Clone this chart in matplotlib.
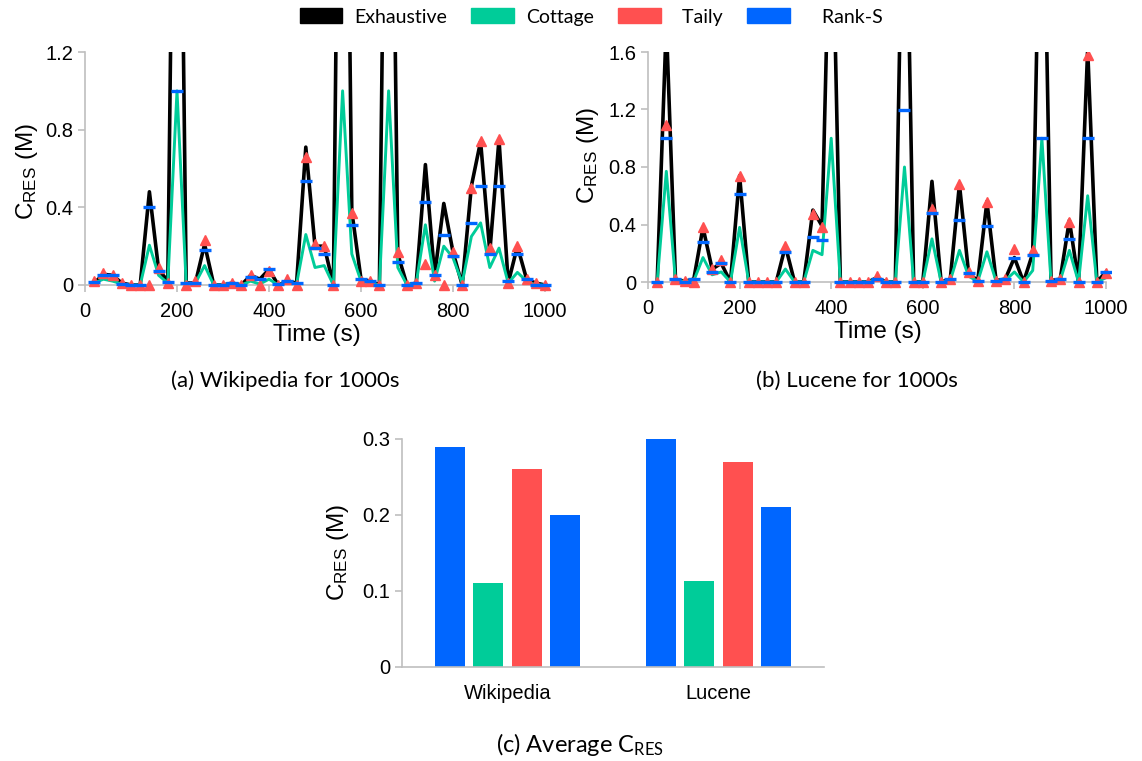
import numpy as np
import matplotlib
matplotlib.use('Agg')
import matplotlib.pyplot as plt
import matplotlib.patches as mpatches
from matplotlib.ticker import FuncFormatter

plt.rcParams['font.family'] = ['Liberation Sans', 'DejaVu Sans']
plt.rcParams['mathtext.default'] = 'regular'

# sampling instants (s)
time = np.arange(20, 1001, 20)

# (a) Wikipedia, C_RES in millions
wiki_exhaustive = [0.01, 0.055, 0.05, 0.01, 0, 0, 0.48, 0.08, 0.02, 4.0,
                   0.01, 0.01, 0.21, 0, 0, 0.01, 0, 0.05, 0.03, 0.08,
                   0, 0.02, 0.01, 0.71, 0.20, 0.20, 0, 4.5, 0.38, 0.03,
                   0.02, 0, 4.0, 0.16, 0, 0.01, 0.62, 0.05, 0.42, 0.17,
                   0, 0.51, 0.74, 0.17, 0.75, 0.01, 0.20, 0.03, 0.01, 0]
wiki_cottage = [0.01, 0.03, 0.02, 0.005, 0, 0, 0.205, 0.05, 0.01, 1.0,
                0.005, 0.01, 0.10, 0, 0, 0.005, 0, 0.02, 0.005, 0.03,
                0, 0.015, 0.005, 0.26, 0.09, 0.10, 0, 1.0, 0.16, 0.02,
                0.01, 0, 1.0, 0.09, 0, 0.01, 0.31, 0.02, 0.20, 0.14,
                0.01, 0.25, 0.32, 0.09, 0.19, 0.01, 0.065, 0.02, 0, 0]
wiki_taily = [0.02, 0.06, 0.05, 0.01, 0, 0, 0, 0.09, 0.01, 1.5,
              0, 0.02, 0.23, 0, 0, 0.01, 0, 0.05, 0, 0.07,
              0, 0.03, 0, 0.66, 0.21, 0.20, 0, 1.5, 0.37, 0.02,
              0.02, 0, 1.5, 0.17, 0, 0.01, 0.11, 0.05, 0, 0.17,
              0, 0.50, 0.74, 0.19, 0.75, 0.01, 0.20, 0.03, 0.01, 0]
wiki_rank_s = [0.015, 0.05, 0.05, 0.005, 0, 0, 0.40, 0.07, 0.015, 1.0,
               0.01, 0.01, 0.18, 0, 0, 0.01, 0, 0.04, 0.03, 0.08,
               0.005, 0.02, 0.01, 0.535, 0.19, 0.16, 0, 1.4, 0.31, 0.03,
               0.02, 0, 1.4, 0.12, 0, 0.01, 0.43, 0.05, 0.26, 0.15,
               0, 0.32, 0.51, 0.16, 0.51, 0.02, 0.16, 0.03, 0, 0]

# (b) Lucene, C_RES in millions
luc_exhaustive = [0, 1.8, 0.02, 0.005, 0.02, 0.38, 0.09, 0.13, 0, 0.74,
                  0, 0, 0, 0, 0.25, 0, 0, 0.50, 0.39, 3.0,
                  0, 0, 0, 0, 0.03, 0, 0, 3.5, 0, 0,
                  0.70, 0, 0.02, 0.68, 0.06, 0.01, 0.56, 0.01, 0.02, 0.17,
                  0, 0.20, 3.5, 0.01, 0.02, 0.43, 0, 1.62, 0, 0.07]
luc_cottage = [0, 0.77, 0.01, 0.005, 0.01, 0.17, 0.05, 0.07, 0, 0.38,
               0, 0, 0, 0, 0.09, 0, 0, 0.22, 0.19, 1.0,
               0, 0, 0, 0, 0.02, 0, 0, 0.80, 0, 0,
               0.30, 0, 0.01, 0.22, 0.04, 0.005, 0.21, 0.005, 0.01, 0.07,
               0, 0.08, 1.0, 0, 0.01, 0.22, 0, 0.60, 0, 0.03]
luc_taily = [0, 1.09, 0.02, 0.005, 0, 0.38, 0.09, 0.15, 0, 0.74,
             0, 0, 0, 0, 0.25, 0, 0, 0.47, 0.38, 2.0,
             0, 0, 0, 0, 0.04, 0, 0, 2.0, 0, 0,
             0.51, 0, 0.02, 0.68, 0.07, 0.005, 0.56, 0.01, 0.02, 0.23,
             0, 0.22, 2.0, 0.01, 0.02, 0.42, 0, 1.58, 0, 0.06]
luc_rank_s = [0, 1.0, 0.02, 0, 0.02, 0.28, 0.07, 0.13, 0, 0.61,
              0, 0, 0, 0, 0.21, 0, 0, 0.31, 0.29, 2.0,
              0, 0, 0, 0, 0.02, 0, 0, 1.2, 0, 0,
              0.48, 0, 0.02, 0.43, 0.06, 0.01, 0.39, 0.01, 0.02, 0.17,
              0, 0.19, 1.0, 0.01, 0.02, 0.30, 0, 1.0, 0, 0.07]

# (c) average C_RES
datasets = ['Wikipedia', 'Lucene']
avg_exhaustive = [0.29, 0.30]
avg_cottage = [0.111, 0.113]
avg_taily = [0.26, 0.27]
avg_rank_s = [0.20, 0.21]

BLACK, GREEN, RED, BLUE = '#000000', '#00CC99', '#FF5050', '#0066FF'
GREY = '#BFBFBF'
W, H = 1142, 761
CAP_FONT = ['Lato', 'DejaVu Sans']
YLAB = r'C$_{\mathregular{RES}}$ (M)'

fig = plt.figure(figsize=(W / 100, H / 100), dpi=100)


def axes_px(px_x, px_y, xlim, ylim):
    # px_x/px_y: ((value, pixel), (value, pixel)), pixels from top-left
    (xa, pa), (xb, pb) = px_x
    sx = (pb - pa) / (xb - xa)
    left = pa + (xlim[0] - xa) * sx
    right = pa + (xlim[1] - xa) * sx
    (ya, qa), (yb, qb) = px_y
    sy = (qb - qa) / (yb - ya)
    top = qa + (ylim[1] - ya) * sy
    bottom = qa + (ylim[0] - ya) * sy
    ax = fig.add_axes([left / W, 1 - bottom / H, (right - left) / W,
                       (bottom - top) / H])
    ax.set_xlim(xlim)
    ax.set_ylim(ylim)
    return ax


def style(ax):
    for s in ['top', 'right']:
        ax.spines[s].set_visible(False)
    for s in ['left', 'bottom']:
        ax.spines[s].set_color(GREY)
        ax.spines[s].set_linewidth(1.2)
    ax.tick_params(colors=GREY, labelcolor='black', labelsize=14.5,
                   length=5, width=1.2)
    ax.yaxis.set_major_formatter(FuncFormatter(lambda v, p: f'{v:g}'))


def trace(ax, exh, cot, tai, ran, ymax, step):
    ax.plot(time, exh, color=BLACK, lw=2.6, zorder=2)
    ax.plot(time, cot, color=GREEN, lw=2.1, zorder=3)
    ax.plot(time, tai, ls='none', marker='^', ms=7.5, color=RED, zorder=4)
    ax.plot(time, ran, ls='none', marker='_', ms=8, mew=2.4, color=BLUE,
            zorder=5)
    style(ax)
    ax.spines['bottom'].set_position(('data', 0))
    ax.spines['bottom'].set_bounds(0, 1000)
    ax.spines['left'].set_position(('data', 0))
    ax.spines['left'].set_bounds(0, ymax)
    ax.set_xticks(range(0, 1001, 200))
    ax.set_yticks(np.arange(0, ymax + 0.01, step))
    ax.tick_params(axis='x', pad=7.5)
    ax.set_xlabel('Time (s)', fontsize=17.5, labelpad=2)


ax_a = axes_px(((0, 85), (1000, 545)), ((0, 285), (1.2, 52)),
               (-6, 1012), (-0.035, 1.2))
trace(ax_a, wiki_exhaustive, wiki_cottage, wiki_taily, wiki_rank_s, 1.2, 0.4)
ax_a.set_ylabel(YLAB, fontsize=17.5, labelpad=4)

ax_b = axes_px(((0, 648), (1000, 1106)), ((0, 282), (1.6, 52)),
               (-6, 1012), (-0.045, 1.6))
trace(ax_b, luc_exhaustive, luc_cottage, luc_taily, luc_rank_s, 1.6, 0.4)
ax_b.set_ylabel(YLAB, fontsize=17.5, labelpad=2)
ax_b.yaxis.set_label_coords(-0.095, 0.56)

# bar chart
ax_c = axes_px(((-0.5, 402), (1.5, 824)), ((0, 667), (0.3, 439)),
               (-0.5, 1.5), (0, 0.3))
x = np.arange(len(datasets))
step, width = 0.182, 0.142
for i, (vals, col) in enumerate([(avg_exhaustive, BLUE), (avg_cottage, GREEN),
                                 (avg_taily, RED), (avg_rank_s, BLUE)]):
    ax_c.bar(x + (i - 1.5) * step, vals, width, color=col, zorder=2)
style(ax_c)
ax_c.set_yticks([0, 0.1, 0.2, 0.3])
ax_c.set_xticks(x)
ax_c.set_xticklabels(datasets, fontsize=14.5)
ax_c.tick_params(axis='x', length=0, pad=12)
ax_c.set_ylabel(YLAB, fontsize=17.5, labelpad=8)

legend_items = [
    mpatches.Patch(color=BLACK, label='Exhaustive'),
    mpatches.Patch(color=GREEN, label='Cottage'),
    mpatches.Patch(color=RED, label='  Taily'),
    mpatches.Patch(color=BLUE, label='    Rank-S'),
]
fig.legend(handles=legend_items, loc='upper center', ncol=4, frameon=False,
           bbox_to_anchor=(591 / W, 1.012), handlelength=2.2,
           handleheight=0.8, handletextpad=0.6, columnspacing=1.25,
           prop={'family': CAP_FONT, 'size': 14})

fig.text(285 / W, 1 - 381 / H, '(a) Wikipedia for 1000s', ha='center',
         va='center', fontsize=16, family=CAP_FONT)
fig.text(857 / W, 1 - 381 / H, '(b) Lucene for 1000s', ha='center',
         va='center', fontsize=16, family=CAP_FONT)
fig.text(580 / W, 1 - 745 / H, r'(c) Average C$_{\mathregular{RES}}$',
         ha='center', va='center', fontsize=17, family=CAP_FONT)

fig.savefig('out.png', dpi=100)
